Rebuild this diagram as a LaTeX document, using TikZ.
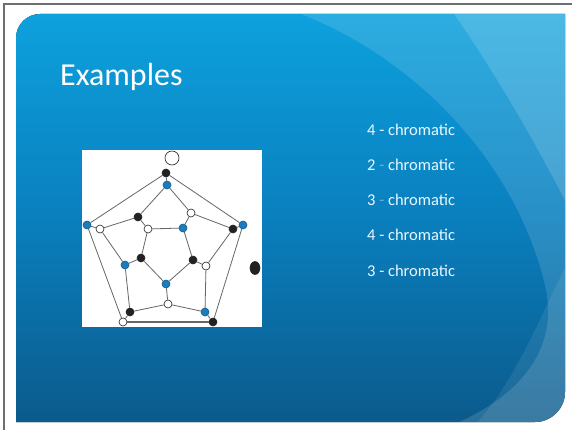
\documentclass[tikz,border=0pt]{standalone}
\usepackage{fontspec}
\setmainfont{Carlito}
\usetikzlibrary{positioning,shapes.geometric}
\definecolor{slidetop}{HTML}{0DA2DE}
\definecolor{slidemid}{HTML}{0A7FBE}
\definecolor{slidebot}{HTML}{0B5A8B}
\definecolor{vxblue}{HTML}{1A7DC0}
\definecolor{vxblack}{HTML}{222222}
\definecolor{edgegrey}{HTML}{666666}
\definecolor{framegrey}{HTML}{6E6E6E}
\tikzset{
  vx/.style={circle,draw=vxblack,line width=0.6pt,inner sep=0pt,minimum size=8pt},
  vblue/.style={vx,fill=vxblue,draw=vxblue!70!black},
  vblack/.style={vx,fill=vxblack},
  vwhite/.style={vx,fill=white},
  ed/.style={draw=edgegrey,line width=0.8pt},
  item/.style={anchor=base west,text=white!92!cyan,font=\fontsize{16.5}{18}\selectfont,inner sep=0pt},
}

\begin{document}
\begin{tikzpicture}[x=1pt,y=-1pt,
  title/.style={anchor=base west,text=white,font=\fontsize{32}{36}\selectfont,inner sep=0pt}]
\useasboundingbox (0,0) rectangle (572,430);
\fill[white] (0,0) rectangle (572,430);
\draw[framegrey,line width=1.2pt] (4,430) -- (4,4) -- (572,4);

% slide background
\begin{scope}
\clip (16,422) -- (16,38) arc[start angle=180,end angle=270,radius=24]
      -- (565,14) -- (565,392) arc[start angle=0,end angle=90,radius=30] -- cycle;
\fill[top color=slidetop,bottom color=slidebot,middle color=slidemid] (10,10) rectangle (570,425);
\fill[white,opacity=0.13] (285,8) .. controls (420,55) and (520,170) .. (546,290)
      .. controls (558,350) and (520,400) .. (440,430) -- (580,430) -- (580,8) -- cycle;
\fill[white,opacity=0.15] (450,8) .. controls (500,80) and (540,150) .. (580,230) -- (580,8) -- cycle;
\fill[white,opacity=0.08] (580,240) .. controls (545,300) and (520,380) .. (470,430) -- (580,430) -- cycle;
\end{scope}

\node[title] (ttl) at (60,86) {Examples};

\node[item] (c1) at (367,136) {4 - chromatic};
\node[item] (c2) at (367,171) {2 \textcolor{white!40!slidemid}{-} chromatic};
\node[item] (c3) at (367,205.5) {3 \textcolor{white!40!slidemid}{-} chromatic};
\node[item] (c4) at (367,240.5) {4 - chromatic};
\node[item] (c5) at (367,276) {3 - chromatic};

% the graph
\fill[white] (82,150) rectangle (262,327);

\node[vblack] (o1) at (166,173) {};
\node[vblue]  (o2) at (87,225) {};
\node[vwhite] (o3) at (123,322) {};
\node[vblack] (o4) at (213,322) {};
\node[vblue]  (o5) at (243,225) {};

\node[vblue]  (m1) at (167,185) {};
\node[vwhite] (m2) at (191,213) {};
\node[vblack] (m3) at (233,229) {};
\node[vwhite] (m4) at (206,266) {};
\node[vblue]  (m5) at (205,312) {};
\node[vwhite] (m6) at (168,304) {};
\node[vblack] (m7) at (130,312) {};
\node[vblue]  (m8) at (125,265) {};
\node[vwhite] (m9) at (100,229) {};
\node[vblack] (m10) at (138,217) {};

\node[vwhite] (i1) at (148,229) {};
\node[vblue]  (i2) at (183,228) {};
\node[vblack] (i3) at (193,260) {};
\node[vblue]  (i4) at (166,284) {};
\node[vblack] (i5) at (141,258) {};

\node[vwhite,minimum size=14pt] (x1) at (172,158) {};
\node[vblack,ellipse,minimum width=10pt,minimum height=13pt] (x2) at (255,268) {};

\foreach \a/\b in {o1/o2,o2/o3,o4/o5,o5/o1,o1/m1,o2/m9,o3/m7,o4/m5,o5/m3,
                   m1/m2,m2/m3,m3/m4,m4/m5,m5/m6,m6/m7,m7/m8,m8/m9,m9/m10,m10/m1,
                   m10/i1,m2/i2,m4/i3,m6/i4,m8/i5,
                   i1/i2,i2/i3,i3/i4,i4/i5,i5/i1}
  \draw[ed] (\a) -- (\b);
\draw[ed,line width=1.4pt] (o3) -- (o4);

\end{tikzpicture}
\end{document}
